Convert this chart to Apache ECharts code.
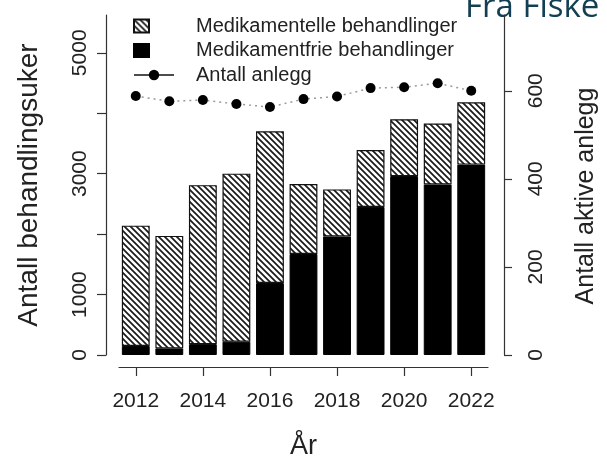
<!DOCTYPE html>
<html><head><meta charset="utf-8">
<script src="https://cdn.jsdelivr.net/npm/echarts@6/dist/echarts.min.js"></script>
<style>html,body{margin:0;padding:0;background:#fff}#c{width:607px;height:465px}</style>
</head><body><div id="c"></div>
<script>
const years = ['2012','2013','2014','2015','2016','2017','2018','2019','2020','2021','2022'];
const medikamentfrie = [150,110,180,220,1190,1670,1960,2450,2960,2820,3150];
const medikamentelle = [1990,1860,2630,2780,2510,1160,780,940,940,1010,1030];
const anlegg = [588,576,579,570,563,581,587,606,608,617,600];
const leftTicks = [0,1000,2000,3000,4000,5000];
const leftLabels = [0,1000,3000,5000];
const rightTicks = [0,200,400,600];

const FONT = 'Liberation Sans';
const TXT = '#222';

function hatch(){
  const s = 6, c = document.createElement('canvas');
  c.width = s; c.height = s;
  const g = c.getContext('2d');
  g.fillStyle = '#fff'; g.fillRect(0,0,s,s);
  g.strokeStyle = '#1a1a1a'; g.lineWidth = 1.7;
  g.beginPath();
  g.moveTo(-1,-1); g.lineTo(s+1,s+1);
  g.moveTo(-1,s-1); g.lineTo(1,s+1);
  g.moveTo(s-1,-1); g.lineTo(s+1,1);
  g.stroke();
  return c;
}
const sqIcon = 'path://M0,0L15,0L15,13L0,13Z M40,13';
const plain = (v) => String(v);

const chart = echarts.init(document.getElementById('c'), null, {renderer:'canvas'});
chart.setOption({
  animation:false,
  backgroundColor:'#fff',
  textStyle:{fontFamily:FONT, color:TXT},
  grid:{left:119, right:117, top:15, bottom:108},
  graphic:[{type:'text', style:{text:'Fra Fiske', x:465, y:8, verticalAlign:'middle', font:"33px 'Open Sans'", fill:'#123f52'}}],
  legend:{
    orient:'vertical', left:133, top:16, padding:0, itemGap:4.5, itemWidth:40, itemHeight:13,
    textStyle:{fontSize:20, color:TXT, fontFamily:FONT, padding:[0,0,0,17]},
    data:[
      {name:'Medikamentelle behandlinger', icon:sqIcon},
      {name:'Medikamentfrie behandlinger', icon:sqIcon},
      {name:'Antall anlegg', lineStyle:{type:'solid', color:'#111', width:1.5}}
    ]
  },
  xAxis:{
    type:'category', data:years, offset:12,
    axisLine:{onZero:false, lineStyle:{color:'#333', width:1.2}},
    axisTick:{show:true, alignWithLabel:true, interval:1, length:9, inside:false, lineStyle:{color:'#333', width:1.2}},
    axisLabel:{interval:1, fontSize:21, margin:24, color:TXT, fontFamily:FONT},
    name:'År', nameLocation:'middle', nameGap:66,
    nameTextStyle:{fontSize:27, color:TXT, fontFamily:FONT}
  },
  yAxis:[{
    type:'value', min:0, max:5625, offset:13,
    axisLine:{show:true, lineStyle:{color:'#333', width:1.2}},
    splitLine:{show:false},
    axisTick:{show:true, length:9, customValues:leftTicks, lineStyle:{color:'#333', width:1.2}},
    axisLabel:{rotate:90, customValues:leftLabels, formatter:plain, fontSize:21, margin:15, color:TXT, fontFamily:FONT},
    name:'Antall behandlingsuker', nameLocation:'middle', nameGap:63, nameRotate:90,
    nameTextStyle:{fontSize:28, color:TXT, fontFamily:FONT}
  },{
    type:'value', min:0, max:772, position:'right', offset:16,
    axisLine:{show:true, lineStyle:{color:'#333', width:1.2}},
    splitLine:{show:false},
    axisTick:{show:true, length:8, customValues:rightTicks, lineStyle:{color:'#333', width:1.2}},
    axisLabel:{rotate:90, customValues:rightTicks, formatter:plain, fontSize:21, margin:22, color:TXT, fontFamily:FONT},
    name:'Antall aktive anlegg', nameLocation:'middle', nameGap:70, nameRotate:90,
    nameTextStyle:{fontSize:25, color:TXT, fontFamily:FONT, padding:[0,22,0,0]}
  }],
  series:[
    {name:'Medikamentfrie behandlinger', type:'bar', stack:'a', data:medikamentfrie, barCategoryGap:'17%',
     itemStyle:{color:'#000', borderColor:'#000', borderWidth:1}},
    {name:'Medikamentelle behandlinger', type:'bar', stack:'a', data:medikamentelle, barCategoryGap:'17%',
     itemStyle:{color:{image:hatch(), repeat:'repeat'}, borderColor:'#111', borderWidth:1.2}},
    {name:'Antall anlegg', type:'line', yAxisIndex:1, data:anlegg, symbol:'circle', symbolSize:10, z:5,
     itemStyle:{color:'#000'}, lineStyle:{color:'#9a9a9a', width:1.5, type:[2,4]}}
  ]
});
</script></body></html>
